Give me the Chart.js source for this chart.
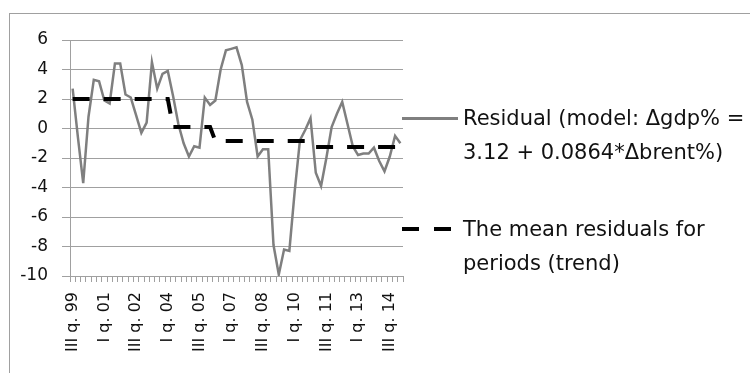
<!DOCTYPE html>
<html>
<head>
<meta charset="utf-8">
<script src="https://cdn.jsdelivr.net/npm/chart.js@4.4.1/dist/chart.umd.min.js"></script>
<style>
  html, body { margin: 0; padding: 0; background: #fff; }
  body { width: 750px; height: 373px; position: relative; overflow: hidden; font-family: "DejaVu Sans", sans-serif; color: #111; }
  #frame { position: absolute; left: 9px; top: 13px; width: 800px; height: 420px; border: 1px solid #a0a0a0; }
  #chart { position: absolute; left: 0; top: 0; }
  .key-line { position: absolute; left: 402px; }
  .key-solid { top: 117px; width: 56px; height: 3px; background: #7f7f7f; }
  .key-dash { top: 227px; width: 50px; height: 4px; background: repeating-linear-gradient(to right, #000 0 17px, transparent 17px 32px); }
  .key-text { position: absolute; left: 463px; font-size: 21px; line-height: 34px; white-space: nowrap; }
</style>
</head>
<body>
<div id="frame"></div>
<canvas id="chart" width="420" height="373"></canvas>
<div class="key-line key-solid"></div>
<div class="key-text" id="key-residual" style="top:101px"></div>
<div class="key-line key-dash"></div>
<div class="key-text" id="key-trend" style="top:212px"></div>
<script>
// quarters III q. 99 .. I q. 15
const QUARTERS = [
  'III q. 99', 'IV q. 99',
  'I q. 00', 'II q. 00', 'III q. 00', 'IV q. 00',
  'I q. 01', 'II q. 01', 'III q. 01', 'IV q. 01',
  'I q. 02', 'II q. 02', 'III q. 02', 'IV q. 02',
  'I q. 03', 'II q. 03', 'III q. 03', 'IV q. 03',
  'I q. 04', 'II q. 04', 'III q. 04', 'IV q. 04',
  'I q. 05', 'II q. 05', 'III q. 05', 'IV q. 05',
  'I q. 06', 'II q. 06', 'III q. 06', 'IV q. 06',
  'I q. 07', 'II q. 07', 'III q. 07', 'IV q. 07',
  'I q. 08', 'II q. 08', 'III q. 08', 'IV q. 08',
  'I q. 09', 'II q. 09', 'III q. 09', 'IV q. 09',
  'I q. 10', 'II q. 10', 'III q. 10', 'IV q. 10',
  'I q. 11', 'II q. 11', 'III q. 11', 'IV q. 11',
  'I q. 12', 'II q. 12', 'III q. 12', 'IV q. 12',
  'I q. 13', 'II q. 13', 'III q. 13', 'IV q. 13',
  'I q. 14', 'II q. 14', 'III q. 14', 'IV q. 14',
  'I q. 15',
];

const RESIDUAL = [
  2.7, -0.6, -3.7, 0.8, 3.3, 3.2, 1.9, 1.7, 4.4, 4.4,
  2.3, 2.1, 0.9, -0.3, 0.4, 4.5, 2.7, 3.7, 3.9, 2.2,
  0.3, -1.0, -1.9, -1.2, -1.3, 2.1, 1.6, 1.9, 4.0, 5.3,
  5.4, 5.5, 4.3, 1.8, 0.6, -1.9, -1.4, -1.4, -7.9, -9.9,
  -8.2, -8.3, -4.3, -0.8, -0.1, 0.7, -3.0, -3.9, -2.0, 0.1,
  1.0, 1.8, 0.3, -1.2, -1.8, -1.7, -1.7, -1.3, -2.2, -2.9,
  -1.9, -0.5, -1.0,
];

const TREND = [
  2.0, 2.0, 2.0, 2.0, 2.0, 2.0, 2.0, 2.0, 2.0, 2.0,
  2.0, 2.0, 2.0, 2.0, 2.0, 2.0, 2.0, 2.0, 2.0, 0.1,
  0.1, 0.1, 0.1, 0.1, 0.1, 0.1, 0.1, -0.85, -0.85, -0.85,
  -0.85, -0.85, -0.85, -0.85, -0.85, -0.85, -0.85, -0.85, -0.85, -0.85,
  -0.85, -0.85, -0.85, -0.85, -0.85, -1.25, -1.25, -1.25, -1.25, -1.25,
  -1.25, -1.25, -1.25, -1.25, -1.25, -1.25, -1.25, -1.25, -1.25, -1.25,
  -1.25, -1.25, -1.25,
];

const SERIES_NAMES = [
  ['Residual (model: Δgdp% =', '3.12 + 0.0864*Δbrent%)'],
  ['The mean residuals for', 'periods (trend)'],
];

const Y_MIN = -10, Y_MAX = 6, Y_STEP = 2;
const LABEL_EVERY = 6;

const GRID = '#a0a0a0';
const INK = '#111';

document.getElementById('key-residual').innerHTML = SERIES_NAMES[0].join('<br>');
document.getElementById('key-trend').innerHTML = SERIES_NAMES[1].join('<br>');

new Chart(document.getElementById('chart'), {
  type: 'line',
  data: {
    labels: QUARTERS,
    datasets: [
      { data: RESIDUAL, borderColor: '#7f7f7f', borderWidth: 2.5, pointRadius: 0, tension: 0, order: 2 },
      { data: TREND, borderColor: '#000', borderWidth: 4, borderDash: [17, 14], borderCapStyle: 'butt', pointRadius: 0, tension: 0, order: 1 },
    ],
  },
  options: {
    responsive: false,
    devicePixelRatio: 1,
    animation: false,
    layout: { padding: { left: 0, top: 40, right: 17, bottom: 0 } },
    plugins: { legend: { display: false }, tooltip: { enabled: false } },
    scales: {
      x: {
        type: 'category',
        offset: true,
        // fixed plot box: 70..403 px wide, bottom at 276 px
        afterFit: s => { s.height = 97; s.paddingLeft = 0; s.paddingRight = 0; },
        grid: { display: true, drawOnChartArea: false, drawTicks: true, tickLength: 6, offset: true, color: GRID },
        border: { display: true, color: GRID, width: 1 },
        ticks: {
          autoSkip: false, minRotation: 90, maxRotation: 90, padding: 10,
          color: INK, font: { family: 'DejaVu Sans', size: 16 },
          callback: (v, i) => i % LABEL_EVERY === 0 ? QUARTERS[i] : '',
        },
      },
      y: {
        min: Y_MIN, max: Y_MAX,
        afterFit: s => { s.width = 70; },
        grid: { color: GRID, tickLength: 8, drawTicks: true },
        border: { display: true, color: GRID, width: 1 },
        ticks: { stepSize: Y_STEP, padding: 14, color: INK, font: { family: 'DejaVu Sans', size: 17 } },
      },
    },
  },
});
</script>
</body>
</html>
